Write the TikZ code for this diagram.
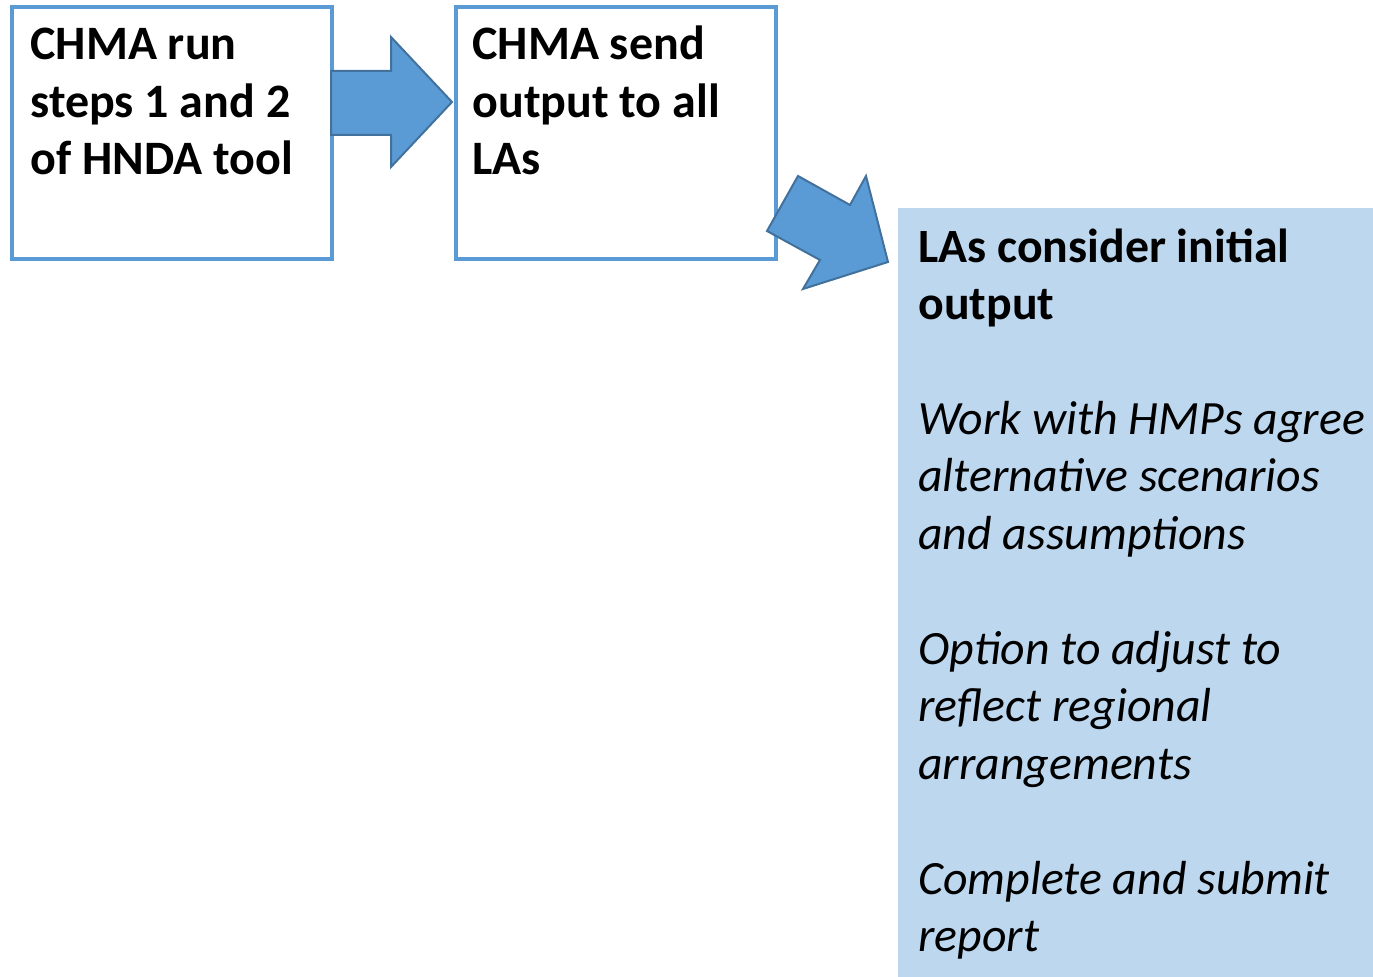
\documentclass[tikz,border=0pt]{standalone}
\usepackage{fontspec}
\setmainfont{Carlito}
\usepackage{tikz}
\definecolor{boxblue}{HTML}{5B9BD5}
\definecolor{arrowline}{HTML}{41719C}
\definecolor{notefill}{HTML}{BDD7EE}
\tikzset{
  stepbox/.style={draw=boxblue, line width=2pt, minimum width=160pt, minimum height=126pt, inner sep=0pt, anchor=north west},
  notebox/.style={fill=notefill, minimum width=237.5pt, minimum height=384.5pt, inner sep=0pt, anchor=north west},
  blockarrow/.style={fill=boxblue, draw=arrowline, line width=1pt, line join=miter},
  boxtext/.style={anchor=base west, inner sep=0pt, align=left, font=\fontsize{24}{28.75}\selectfont\bfseries},
  notetext/.style={anchor=base west, inner sep=0pt, align=left, font=\fontsize{23.9}{28.75}\selectfont}
}

\begin{document}
\begin{tikzpicture}[x=0.5pt,y=-0.5pt]
\useasboundingbox (0,0) rectangle (1373,977);
\node[stepbox] (box1) at (10,5) {};
\node[stepbox] (box2) at (454,5) {};
\node[notebox] (box3) at (898,208) {};
\node[boxtext] (step1) at (30,175) {CHMA run\\steps 1 and 2\\of HNDA tool};
\node[boxtext] (step2) at (472,175) {CHMA send\\output to all\\LAs};
\node[notetext] (step3) at (918,952) {\textbf{LAs consider initial}\\\textbf{output}\\[28.75pt]
  \textit{Work with HMPs agree}\\\textit{alternative scenarios}\\\textit{and assumptions}\\[28.75pt]
  \textit{Option to adjust to}\\\textit{reflect regional}\\\textit{arrangements}\\[28.75pt]
  \textit{Complete and submit}\\\textit{report}};
\draw[blockarrow] (331,71) -- (391,71) -- (391,37) -- (452,102) -- (391,167) -- (391,135) -- (331,135) -- cycle;
\draw[blockarrow] (798,176) -- (850,205) -- (866,176) -- (888,262) -- (803,289) -- (820,260) -- (767,231) -- cycle;
\end{tikzpicture}
\end{document}
